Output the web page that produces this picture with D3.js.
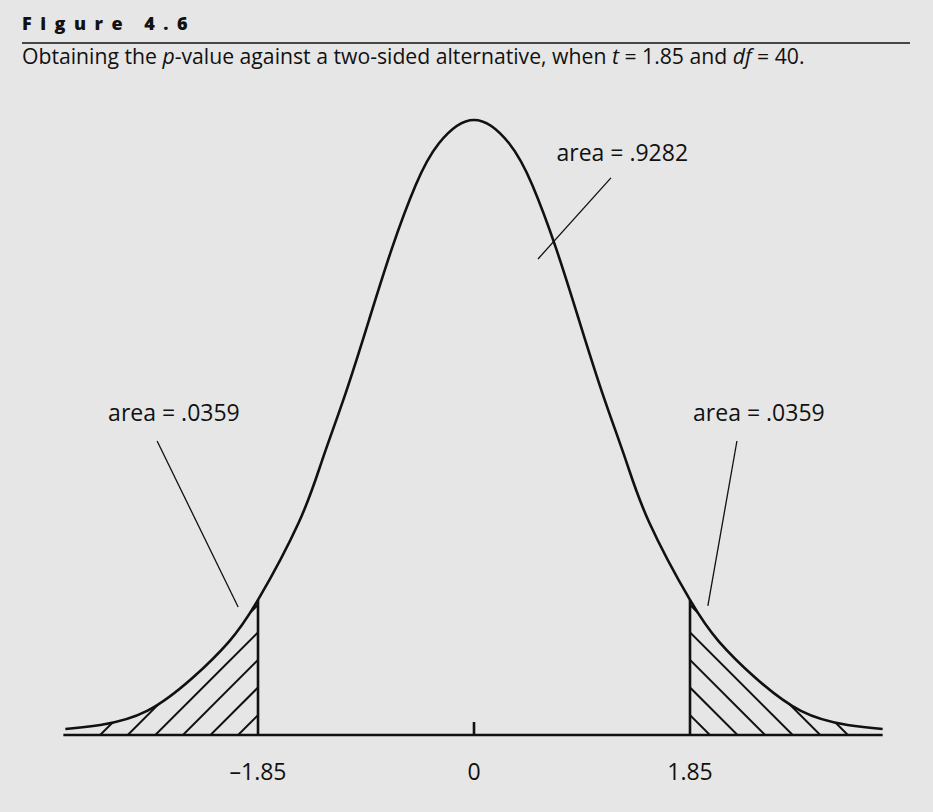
<!DOCTYPE html>
<html><head><meta charset="utf-8">
<script src="https://cdn.jsdelivr.net/npm/d3@7"></script>
<style>
html,body{margin:0;padding:0;background:#e6e6e6;}
svg{display:block;}
text{font-family:"Open Sans","Noto Sans",sans-serif;fill:#111;}
</style></head>
<body>
<script>
// ---- data ----
const curveT = [-3.5,-3.2,-2.8,-2.4,-2.1,-1.85,-1.5,-1.3,-1.1,-0.9,-0.7,-0.5,-0.3,0,0.3,0.5,0.7,0.9,1.1,1.3,1.5,1.85,2.1,2.4,2.8,3.2,3.5];
const curveDensity = [0.0039,0.0064,0.0155,0.0375,0.060,0.087,0.137,0.177,0.220,0.267,0.314,0.354,0.381,0.396,0.381,0.354,0.314,0.267,0.220,0.177,0.137,0.087,0.060,0.0375,0.0155,0.0064,0.0039];
const tickValues = [-1.85, 0, 1.85];
const tickLabels = ["\u20131.85", "0", "1.85"];
const cutoff = 1.85;
const areaLabels = ["area = .0359", "area = .9282", "area = .0359"];
const titleText = "Figure 4.6";

const W = 933, H = 812;
const svg = d3.select("body").append("svg").attr("width", W).attr("height", H);
svg.append("rect").attr("width", W).attr("height", H).attr("fill", "#e6e6e6");

// header
svg.append("text").attr("x", 22).attr("y", 30)
  .attr("font-size", 18).attr("font-weight", 800).attr("letter-spacing", "8.5px")
  .text(titleText);
svg.append("line").attr("x1", 22).attr("x2", 910).attr("y1", 43).attr("y2", 43)
  .attr("stroke", "#111").attr("stroke-width", 1.5);
const sub = svg.append("text").attr("x", 22).attr("y", 64).attr("font-size", 19);
sub.append("tspan").text("Obtaining the ");
sub.append("tspan").attr("font-style", "italic").text("p");
sub.append("tspan").text("-value against a two-sided alternative, when ");
sub.append("tspan").attr("font-style", "italic").text("t");
sub.append("tspan").text(" = 1.85 and ");
sub.append("tspan").attr("font-style", "italic").text("df");
sub.append("tspan").text(" = 40.");
const subW = sub.node().getComputedTextLength();
sub.attr("font-size", 19 * 783 / subW);

// scales
const x = d3.scaleLinear().domain([-1.85, 1.85]).range([258, 690]);
const y = d3.scaleLinear().domain([0, 0.396]).range([735, 120]);

const pts = curveT.map((t, i) => [t, curveDensity[i]]);
const line = d3.line().x(d => x(d[0])).y(d => y(d[1])).curve(d3.curveNatural);
const area = d3.area().x(d => x(d[0])).y0(y(0)).y1(d => y(d[1])).curve(d3.curveNatural);

const defs = svg.append("defs");
defs.append("clipPath").attr("id", "clipArea").append("path").attr("d", area(pts));
defs.append("clipPath").attr("id", "clipLeft").append("rect")
  .attr("x", 0).attr("y", 0).attr("width", x(-cutoff)).attr("height", H);
defs.append("clipPath").attr("id", "clipRight").append("rect")
  .attr("x", x(cutoff)).attr("y", 0).attr("width", W - x(cutoff)).attr("height", H);

// hatching (45 degree lines)
const hatchStep = 0.2363; // spacing along the axis, t units
const hatchStartL = -3.245;
const gL = svg.append("g").attr("clip-path", "url(#clipLeft)").append("g").attr("clip-path", "url(#clipArea)");
for (let t = hatchStartL; t < -cutoff; t += hatchStep) {
  const x0 = x(t);
  gL.append("line").attr("x1", x0).attr("y1", y(0) + 5).attr("x2", x0 + 260).attr("y2", y(0) - 255)
    .attr("stroke", "#111").attr("stroke-width", 2);
}
const gR = svg.append("g").attr("clip-path", "url(#clipRight)").append("g").attr("clip-path", "url(#clipArea)");
for (let t = -hatchStartL; t > cutoff; t -= hatchStep) {
  const x0 = x(t);
  gR.append("line").attr("x1", x0).attr("y1", y(0) + 5).attr("x2", x0 - 260).attr("y2", y(0) - 255)
    .attr("stroke", "#111").attr("stroke-width", 2);
}

// curve
svg.append("path").attr("d", line(pts)).attr("fill", "none").attr("stroke", "#111").attr("stroke-width", 2.6);

// axis baseline
svg.append("line").attr("x1", x(curveT[0]) - 2).attr("x2", x(curveT[curveT.length - 1]))
  .attr("y1", y(0)).attr("y2", y(0)).attr("stroke", "#111").attr("stroke-width", 2.6);

// cutoff verticals
const dAtCut = curveDensity[curveT.indexOf(cutoff)];
[-cutoff, cutoff].forEach(c => {
  svg.append("line").attr("x1", x(c)).attr("x2", x(c)).attr("y1", y(0)).attr("y2", y(dAtCut))
    .attr("stroke", "#111").attr("stroke-width", 2.6);
});
// zero tick
svg.append("line").attr("x1", x(0)).attr("x2", x(0)).attr("y1", y(0)).attr("y2", y(0) - 13)
  .attr("stroke", "#111").attr("stroke-width", 2.6);

// tick labels
svg.selectAll(".tl").data(tickValues).enter().append("text")
  .attr("x", d => x(d)).attr("y", 780).attr("text-anchor", "middle").attr("font-size", 23)
  .text((d, i) => tickLabels[i]);

// annotations (data coordinates)
const leaders = [[-2.714, 0.1893, -2.02, 0.0824], [1.173, 0.3587, 0.548, 0.3065], [2.252, 0.1893, 2.003, 0.0831]];
const labelPos = [[-2.57, 0.202], [1.27, 0.3696], [2.44, 0.202]];
leaders.forEach(l => {
  svg.append("line").attr("x1", x(l[0])).attr("y1", y(l[1])).attr("x2", x(l[2])).attr("y2", y(l[3]))
    .attr("stroke", "#111").attr("stroke-width", 1.3);
});
areaLabels.forEach((s, i) => {
  svg.append("text").attr("x", x(labelPos[i][0])).attr("y", y(labelPos[i][1]))
    .attr("text-anchor", "middle").attr("font-size", 23).text(s);
});
</script>
</body></html>
